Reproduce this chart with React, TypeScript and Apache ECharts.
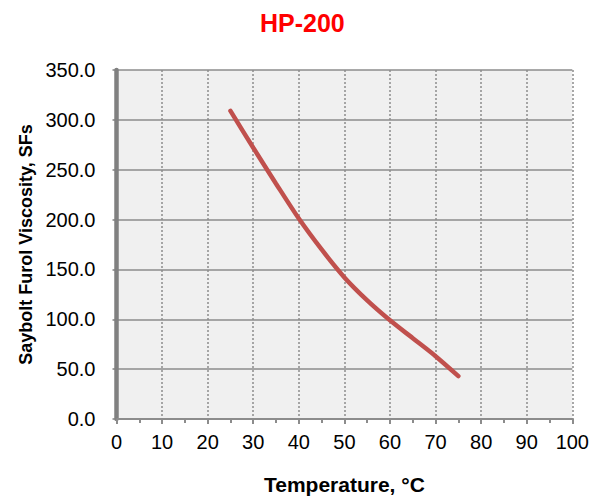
import React, { useEffect, useRef } from "react";
import * as echarts from "echarts";

const temperatures = [25, 30, 35, 40, 45, 50, 55, 60, 65, 70, 75];
const viscosity = [309, 272, 236, 201, 170, 142, 119, 99, 81, 63, 43];
const titleText = "HP-200";
const xName = "Temperature, °C";
const yName = "Saybolt Furol Viscosity, SFs";

export default function App() {
  const ref = useRef<HTMLDivElement>(null);
  useEffect(() => {
    if (!ref.current) return;
    const chart = echarts.init(ref.current, undefined, { renderer: "svg" });
    const data = temperatures.map((t, i) => [t, viscosity[i]]);
    chart.setOption({
      animation: false,
      backgroundColor: "#ffffff",
      textStyle: { fontFamily: "Liberation Sans, Arial, sans-serif" },
      title: {
        text: titleText,
        left: 255,
        top: 5,
        textStyle: {
          color: "#ff0000",
          fontSize: 25,
          fontWeight: "bold",
          fontFamily: "Liberation Sans, Arial, sans-serif",
        },
      },
      grid: {
        left: 116.5,
        right: 19,
        top: 70,
        bottom: 80,
        show: true,
        backgroundColor: "#f0f0f0",
        borderWidth: 0,
      },
      xAxis: {
        type: "value",
        min: 0,
        max: 100,
        interval: 10,
        name: xName,
        nameLocation: "middle",
        nameGap: 55,
        nameTextStyle: {
          color: "#000",
          fontSize: 21,
          fontWeight: "bold",
          fontFamily: "Liberation Sans, Arial, sans-serif",
        },
        axisLine: { show: true, lineStyle: { color: "#8c8c8c", width: 2 } },
        axisTick: { show: true, length: 5, lineStyle: { color: "#8c8c8c", width: 2 } },
        minorTick: { show: true, splitNumber: 2, length: 4, lineStyle: { color: "#8c8c8c", width: 2 } },
        axisLabel: {
          color: "#000",
          fontSize: 20,
          margin: 13,
          fontFamily: "Liberation Sans, Arial, sans-serif",
        },
        splitLine: {
          show: true,
          lineStyle: { color: "#8c8c8c", width: 1.5, type: [2, 2] },
        },
      },
      yAxis: {
        type: "value",
        min: 0,
        max: 350,
        interval: 50,
        offset: 2,
        name: yName,
        nameLocation: "middle",
        nameGap: 78,
        nameTextStyle: {
          color: "#000",
          fontSize: 18,
          fontWeight: "bold",
          fontFamily: "Liberation Sans, Arial, sans-serif",
        },
        axisLine: { show: true, lineStyle: { color: "#808080", width: 4.5 } },
        axisTick: { show: true, length: 4, lineStyle: { color: "#808080", width: 1.5 } },
        axisLabel: {
          color: "#000",
          fontSize: 20,
          margin: 19,
          formatter: (v: number) => v.toFixed(1),
          fontFamily: "Liberation Sans, Arial, sans-serif",
        },
        splitLine: {
          show: true,
          lineStyle: { color: "#8c8c8c", width: 1.5, type: "solid" },
        },
      },
      series: [
        {
          type: "line",
          data,
          smooth: 0.3,
          showSymbol: false,
          symbol: "none",
          lineStyle: { color: "#c0504d", width: 4.5, cap: "round" },
        },
      ],
    });
    return () => chart.dispose();
  }, []);
  return (
    <div
      ref={ref}
      style={{ position: "fixed", left: 0, top: 0, width: 592, height: 500, background: "#fff" }}
    />
  );
}
